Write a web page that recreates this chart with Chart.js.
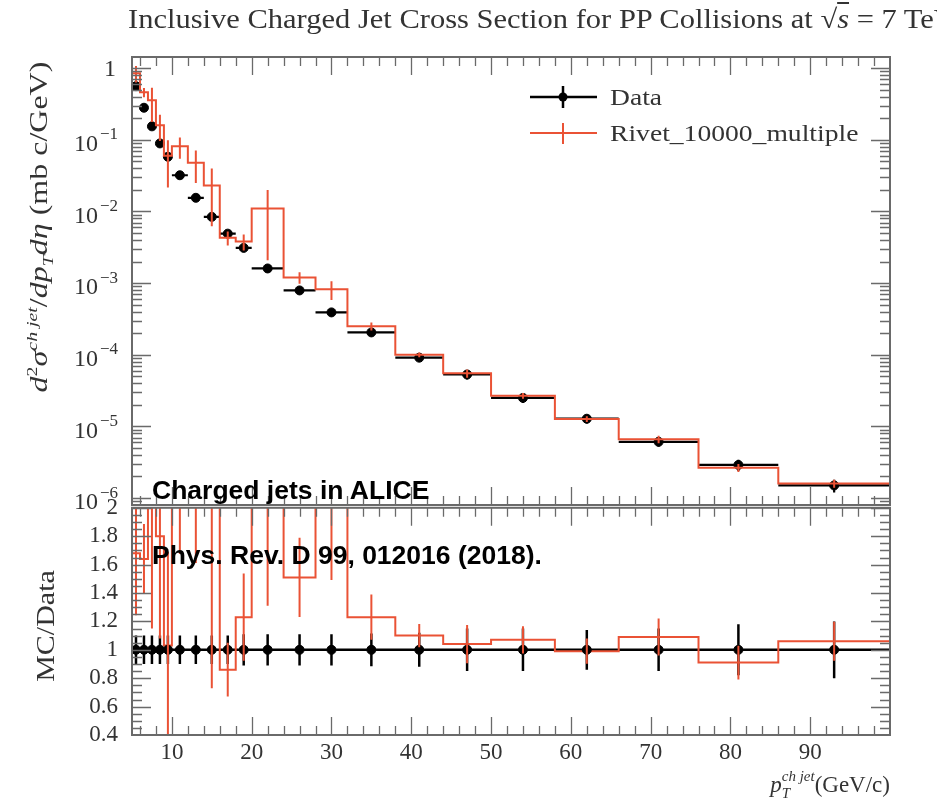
<!DOCTYPE html>
<html><head><meta charset="utf-8">
<script src="https://cdn.jsdelivr.net/npm/chart.js@4.4.1/dist/chart.umd.min.js"></script>
<style>
html,body{margin:0;padding:0;background:#fff;}
#wrap{position:relative;width:937px;height:810px;overflow:hidden;font-family:'Liberation Serif',serif;color:#333;}
canvas{position:absolute;left:0;}
.t{position:absolute;white-space:nowrap;line-height:1;}
sup,sub{font-size:62%;line-height:0;}
.ann{font-family:'Liberation Sans',Arial,sans-serif;font-weight:bold;color:#000;font-size:26.5px;}
.wide{transform-origin:0 50%;transform:scaleX(1.2);}
</style></head><body>
<div id="wrap">
<canvas id="cTop" width="937" height="520" style="top:0"></canvas>
<canvas id="cBot" width="937" height="330" style="top:480px"></canvas>

<div class="t" style="left:128px;top:6px;font-size:27px;color:#333;transform-origin:0 50%;transform:scaleX(1.13);">Inclusive Charged Jet Cross Section for PP Collisions at <span>√<span style="text-decoration:overline"><i>s</i></span></span> = 7 TeV</div>

<div class="t" style="left:38px;top:227px;transform:translate(-50%,-50%) rotate(-90deg) scaleX(1.28);font-size:25px;"><i>d</i><sup>2</sup><i>σ</i><sup><i>ch jet</i></sup>/<i>dp</i><sub><i>T</i></sub><i>dη</i> (mb c/GeV)</div>
<div class="t" style="left:45px;top:626px;transform:translate(-50%,-50%) rotate(-90deg) scaleX(1.2);font-size:25px;">MC/Data</div>
<div class="t" style="right:47px;top:770px;font-size:23px;"><i>p</i><span style="display:inline-block;vertical-align:middle;font-size:15px;line-height:1.1;text-align:left;position:relative;top:-2px;"><i>ch jet</i><br><i>T</i></span>(GeV/c)</div>

<svg style="position:absolute;left:525px;top:78px" width="80" height="75">
 <line x1="5" y1="19" x2="72" y2="19" stroke="#000" stroke-width="2.5"/>
 <line x1="38" y1="8" x2="38" y2="30" stroke="#000" stroke-width="2.5"/>
 <circle cx="38" cy="19" r="4.5" fill="#000"/>
 <line x1="5" y1="55" x2="72" y2="55" stroke="#ea5235" stroke-width="2"/>
 <line x1="38" y1="45" x2="38" y2="66" stroke="#ea5235" stroke-width="2"/>
</svg>
<div class="t wide" style="left:610px;top:86px;font-size:23px;">Data</div>
<div class="t wide" style="left:610px;top:122px;font-size:23px;">Rivet_10000_multiple</div>

<div class="t ann" style="left:152px;top:477px;">Charged jets in ALICE</div>
<div class="t ann" style="left:152px;top:542px;">Phys. Rev. D 99, 012016 (2018).</div>
</div>
<script>
const RED = '#ea5235';
const FRAME = '#6a6a6a';
const binEdges = [5,6,7,8,9,10,12,14,16,18,20,24,28,32,38,44,50,58,66,76,86,100];
const binCenters = [5.5,6.5,7.5,8.5,9.5,11,13,15,17,19,22,26,30,35,41,47,54,62,71,81,93];
const dataValues = [0.56,0.28,0.154,0.089,0.058,0.032,0.0155,0.0084,0.0049,0.0031,0.0016,0.00079,0.00039,0.000205,9.1e-5,5.3e-5,2.5e-5,1.28e-5,6.1e-6,2.9e-6,1.5e-6];
const dataRelErr = [0.1,0.1,0.1,0.1,0.1,0.1,0.1,0.1,0.1,0.11,0.11,0.11,0.11,0.115,0.12,0.15,0.15,0.14,0.15,0.18,0.2];
const mcValues = [0.85,0.46,0.355,0.16,0.06,0.081,0.048,0.023,0.0043,0.0038,0.011,0.0012,0.00082,0.00025,0.0001,5.5e-5,2.68e-5,1.27e-5,6.6e-6,2.65e-6,1.6e-6];
const mcRelErr = [0.26,0.15,0.5,0.4,0.64,0.33,0.48,0.73,0.22,0.25,0.81,0.185,0.29,0.13,0.075,0.13,0.09,0.09,0.12,0.13,0.13];
const ratioValues = [1.68,1.64,2.3,1.8,1.03,2.5,3.1,2.7,0.86,1.23,6.9,1.51,2.1,1.23,1.10,1.04,1.07,0.99,1.09,0.91,1.06];
const dataRatio = [1,1,1,1,1,1,1,1,1,1,1,1,1,1,1,1,1,1,1,1,1];
const yDecadeTicks = [1,1e-1,1e-2,1e-3,1e-4,1e-5,1e-6];
const ratioTicks = [0.4,0.6,0.8,1,1.2,1.4,1.6,1.8,2];
const xTickLabels = [10,20,30,40,50,60,70,80,90];

const SERIF = "'Liberation Serif', serif";

function stepPoints(vals){
  const pts = vals.map((v,i)=>({x:binEdges[i], y:v}));
  pts.push({x:binEdges[binEdges.length-1], y:vals[vals.length-1]});
  return pts;
}

// minor tick positions
const xMinor=[]; for(let v=6; v<100; v+=2){ if(v%10!==0) xMinor.push(v); }
const yLogMinor=[]; for(let e=-7;e<=0;e++){ for(let m=2;m<=9;m++) yLogMinor.push(m*Math.pow(10,e)); }
const ratioMinor=[]; for(let k=8;k<=40;k++){ const v=k*0.05; if(k%4!==0) ratioMinor.push(v); }

function framePlugin(yMajor, yMinor){
  return {id:'frame', afterDraw(chart){
    const {ctx, chartArea:a} = chart; const x=chart.scales.x, y=chart.scales.y;
    ctx.save();
    ctx.beginPath(); ctx.rect(a.left,a.top,a.right-a.left,a.bottom-a.top); ctx.clip();
    ctx.strokeStyle=FRAME; ctx.lineWidth=1.3;
    ctx.beginPath();
    const XM=18, Xm=9, YM=19, Ym=10;
    const xt=(v,L)=>{const p=Math.round(x.getPixelForValue(v))+0.5; ctx.moveTo(p,a.bottom); ctx.lineTo(p,a.bottom-L); ctx.moveTo(p,a.top); ctx.lineTo(p,a.top+L);};
    const yt=(v,L)=>{const p=Math.round(y.getPixelForValue(v))+0.5; if(p<a.top-1||p>a.bottom+1) return; ctx.moveTo(a.left,p); ctx.lineTo(a.left+L,p); ctx.moveTo(a.right,p); ctx.lineTo(a.right-L,p);};
    xTickLabels.forEach(v=>xt(v,XM)); xMinor.forEach(v=>xt(v,Xm));
    yMajor.forEach(v=>yt(v,YM)); yMinor.forEach(v=>yt(v,Ym));
    ctx.stroke();
    ctx.restore();
    ctx.save(); ctx.strokeStyle=FRAME; ctx.lineWidth=2;
    ctx.strokeRect(a.left,a.top,a.right-a.left,a.bottom-a.top);
    ctx.restore();
  }};
}

// decade tick labels of the log axis, written as 10 with a raised exponent
const topYLabels = {id:'ylab', afterDraw(chart){
  const ctx=chart.ctx, y=chart.scales.y, a=chart.chartArea;
  ctx.save(); ctx.fillStyle='#333'; ctx.textBaseline='middle'; ctx.textAlign='right';
  const right=a.left-14;
  yDecadeTicks.forEach(v=>{
    const py=y.getPixelForValue(v); const e=Math.round(Math.log10(v));
    if(e===0){ ctx.font="24px "+SERIF; ctx.fillText('1', right-2, py+2); return; }
    const exp='\u2212'+(-e);
    ctx.font="17px "+SERIF; ctx.fillText(exp, right, py-5);
    const w=ctx.measureText(exp).width;
    ctx.font="24px "+SERIF; ctx.fillText('10', right-w-2, py+5);
  });
  ctx.restore();
}};

function clipTo(ctx,a){ctx.save(); ctx.beginPath(); ctx.rect(a.left,a.top,a.right-a.left,a.bottom-a.top); ctx.clip();}

const topBars = {id:'bars',
  beforeDatasetsDraw(chart){
    const {ctx, chartArea:a} = chart; const x=chart.scales.x, y=chart.scales.y;
    clipTo(ctx,a);
    ctx.strokeStyle='#000'; ctx.lineWidth=2.2; ctx.beginPath();
    dataValues.forEach((v,i)=>{
      const py=y.getPixelForValue(v);
      ctx.moveTo(x.getPixelForValue(binEdges[i]),py); ctx.lineTo(x.getPixelForValue(binEdges[i+1]),py);
      const px=x.getPixelForValue(binCenters[i]);
      ctx.moveTo(px,y.getPixelForValue(v*(1+dataRelErr[i]))); ctx.lineTo(px,y.getPixelForValue(v*(1-dataRelErr[i])));
    });
    ctx.stroke(); ctx.restore();
  },
  afterDatasetsDraw(chart){
    const {ctx, chartArea:a} = chart; const x=chart.scales.x, y=chart.scales.y;
    clipTo(ctx,a);
    ctx.strokeStyle=RED; ctx.lineWidth=2; ctx.beginPath();
    mcValues.forEach((v,i)=>{
      const px=x.getPixelForValue(binCenters[i]);
      ctx.moveTo(px,y.getPixelForValue(v*(1+mcRelErr[i]))); ctx.lineTo(px,y.getPixelForValue(v*(1-mcRelErr[i])));
    });
    ctx.stroke(); ctx.restore();
  }
};

const botBars = {id:'bars',
  beforeDatasetsDraw(chart){
    const {ctx, chartArea:a} = chart; const x=chart.scales.x, y=chart.scales.y;
    clipTo(ctx,a);
    ctx.strokeStyle='#000'; ctx.lineWidth=2.5; ctx.beginPath();
    dataRatio.forEach((v,i)=>{
      const px=x.getPixelForValue(binCenters[i]);
      ctx.moveTo(px,y.getPixelForValue(v+dataRelErr[i])); ctx.lineTo(px,y.getPixelForValue(v-dataRelErr[i]));
    });
    ctx.stroke(); ctx.restore();
  },
  afterDatasetsDraw(chart){
    const {ctx, chartArea:a} = chart; const x=chart.scales.x, y=chart.scales.y;
    clipTo(ctx,a);
    ctx.strokeStyle=RED; ctx.lineWidth=2; ctx.beginPath();
    ratioValues.forEach((v,i)=>{
      const px=x.getPixelForValue(binCenters[i]);
      ctx.moveTo(px,y.getPixelForValue(v*(1+mcRelErr[i]))); ctx.lineTo(px,y.getPixelForValue(v*(1-mcRelErr[i])));
    });
    ctx.stroke(); ctx.restore();
  }
};

const tickFont = {family:SERIF, size:23};

new Chart(document.getElementById('cTop'), {
  type:'line',
  data:{datasets:[
    {label:'Rivet_10000_multiple', data:stepPoints(mcValues), borderColor:RED, borderWidth:2, stepped:true, pointRadius:0, fill:false, order:0},
    {label:'Data', data:binCenters.map((c,i)=>({x:c,y:dataValues[i]})), showLine:false, pointRadius:4.5, pointBackgroundColor:'#000', pointBorderColor:'#000', order:1}
  ]},
  options:{
    responsive:false, animation:false, events:[],
    layout:{padding:{left:0,top:57,right:47,bottom:15}},
    plugins:{legend:{display:false}, tooltip:{enabled:false}},
    scales:{
      x:{type:'linear', min:5, max:100, display:false},
      y:{type:'logarithmic', min:8e-7, max:1.43,
         afterBuildTicks:s=>{s.ticks=yDecadeTicks.map(v=>({value:v}));},
         afterFit:s=>{s.width=132;},
         grid:{display:false, drawTicks:false}, border:{display:false},
         ticks:{display:false}}
    }
  },
  plugins:[topBars, framePlugin(yDecadeTicks, yLogMinor), topYLabels]
});

new Chart(document.getElementById('cBot'), {
  type:'line',
  data:{datasets:[
    {label:'Data', data:binCenters.map((c,i)=>({x:c,y:dataRatio[i]})), showLine:false, pointRadius:4.5, pointBackgroundColor:'#000', pointBorderColor:'#000', order:0},
    {label:'Rivet_10000_multiple', data:stepPoints(ratioValues), borderColor:RED, borderWidth:2, stepped:true, pointRadius:0, fill:false, order:1},
    {label:'Data line', data:stepPoints(dataRatio), borderColor:'#000', borderWidth:2.5, stepped:true, pointRadius:0, fill:false, order:2}
  ]},
  options:{
    responsive:false, animation:false, events:[],
    layout:{padding:{left:0,top:11.2,right:47,bottom:0}},
    plugins:{legend:{display:false}, tooltip:{enabled:false}},
    scales:{
      x:{type:'linear', min:5, max:100,
         afterBuildTicks:s=>{s.ticks=xTickLabels.map(v=>({value:v}));},
         afterFit:s=>{s.height=75;},
         grid:{display:false, drawTicks:false}, border:{display:false},
         ticks:{padding:4, font:tickFont, color:'#333', autoSkip:false, maxRotation:0}},
      y:{type:'linear', min:0.4, max:2,
         afterBuildTicks:s=>{s.ticks=ratioTicks.map(v=>({value:v}));},
         afterFit:s=>{s.width=132;},
         grid:{display:false, drawTicks:false}, border:{display:false},
         ticks:{padding:14, font:tickFont, color:'#333', autoSkip:false, callback:v=>String(Math.round(v*10)/10)}}
    }
  },
  plugins:[botBars, framePlugin(ratioTicks, ratioMinor)]
});
</script>
</body></html>
